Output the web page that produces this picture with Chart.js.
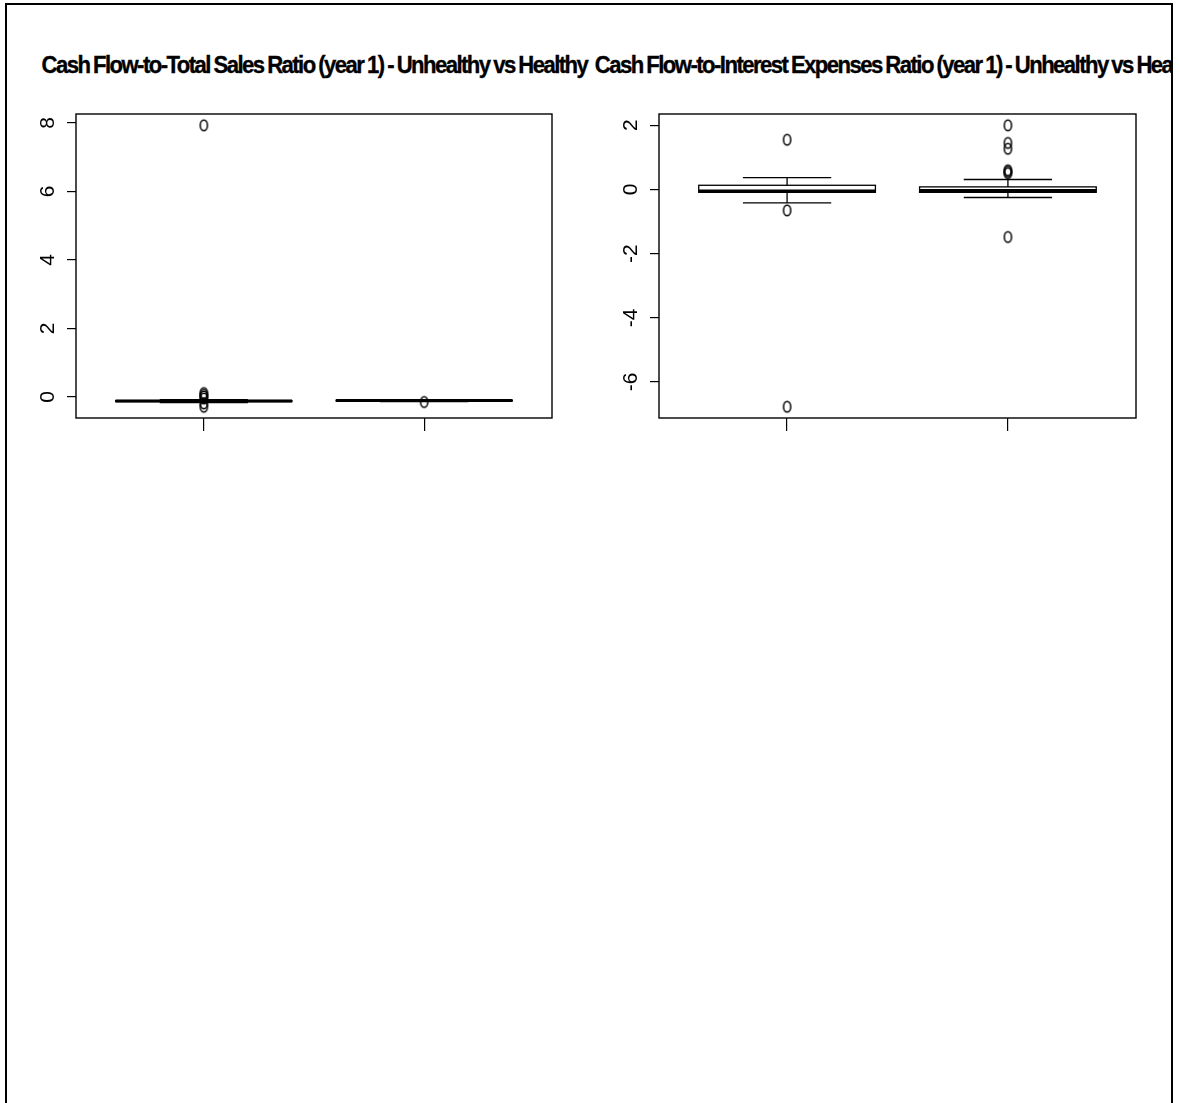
<!DOCTYPE html>
<html>
<head>
<meta charset="utf-8">
<title>Cash flow ratios, year 1</title>
<script src="https://cdn.jsdelivr.net/npm/chart.js@4/dist/chart.umd.min.js"></script>
<style>
  html, body { margin: 0; padding: 0; background: #fff; width: 1180px; height: 1103px; overflow: hidden; }
  #page { position: absolute; left: 0; top: 0; width: 1173px; height: 1103px; overflow: hidden; }
  #frame { position: absolute; left: 5px; top: 3px; width: 1168px; height: 1120px; box-sizing: border-box;
           border: 2px solid #000; border-bottom: none; z-index: 5; }
  .title { position: absolute; top: 54px; font: bold 23px "Liberation Sans", Arial, sans-serif; line-height: 22px;
           white-space: nowrap; letter-spacing: -1.6px; word-spacing: -1px; color: #000;
           -webkit-text-stroke: 0.35px #000; transform-origin: 50% 50%; }
  canvas { position: absolute; top: 90px; }
  #c1 { left: 0px; }
  #c2 { left: 585px; }
</style>
</head>
<body>
<div id="page">
  <div id="frame"></div>
  <div class="title" id="t1"></div>
  <div class="title" id="t2"></div>
  <canvas id="c1" width="590" height="350"></canvas>
  <canvas id="c2" width="590" height="350"></canvas>
</div>
<script>
// Groups, left to right on each panel
const groups = ['Unhealthy', 'Healthy'];

// Cash Flow-to-Total Sales Ratio, year 1: five-number summaries per group
const salesWhiskerLow  = [-0.17, -0.14];
const salesQ1          = [-0.14, -0.12];
const salesMedian      = [-0.125, -0.11];
const salesQ3          = [-0.11, -0.10];
const salesWhiskerHigh = [-0.08, -0.09];
const salesOutliersUnhealthy = [7.93, 0.11, 0.06, 0.01, -0.05, -0.19, -0.29];
const salesOutliersHealthy   = [-0.15];
const salesTicks = [0, 2, 4, 6, 8];

// Cash Flow-to-Interest Expenses Ratio, year 1
const interestWhiskerLow  = [-0.42, -0.25];
const interestQ1          = [-0.09, -0.09];
const interestMedian      = [-0.05, -0.03];
const interestQ3          = [0.13, 0.08];
const interestWhiskerHigh = [0.37, 0.31];
const interestOutliersUnhealthy = [1.55, -0.65, -6.77];
const interestOutliersHealthy   = [2.0, 1.45, 1.27, 0.6, 0.55, 0.51, -1.48];
const interestTicks = [-6, -4, -2, 0, 2];

const panelTitles = [
  'Cash Flow-to-Total Sales Ratio (year 1) - Unhealthy vs Healthy',
  'Cash Flow-to-Interest Expenses Ratio (year 1) - Unhealthy vs Healthy'
];

Chart.defaults.font.family = '"Liberation Sans", Arial, sans-serif';
Chart.defaults.font.size = 21;
Chart.defaults.color = '#000';

// Open elliptical marker for outlying points
function ringMarker() {
  const c = document.createElement('canvas');
  c.width = 11; c.height = 15;
  const g = c.getContext('2d');
  g.strokeStyle = '#000';
  g.lineWidth = 1.5;
  g.beginPath();
  g.ellipse(5.5, 7.5, 3.6, 5.3, 0, 0, Math.PI * 2);
  g.stroke();
  return c;
}
const marker = ringMarker();

// Draws boxes, whiskers, staples and medians from the summaries, plus the plot frame
const boxPlugin = {
  id: 'boxes',
  beforeDatasetsDraw(chart, args, opts) {
    const { ctx, scales: { x, y } } = chart;
    const line = (x1, y1, x2, y2) => { ctx.beginPath(); ctx.moveTo(x1, y1); ctx.lineTo(x2, y2); ctx.stroke(); };
    ctx.save();
    ctx.strokeStyle = '#000';
    ctx.lineCap = 'butt';
    opts.median.forEach((m, i) => {
      const pos = i + 1;
      const xl = x.getPixelForValue(pos - 0.4), xr = x.getPixelForValue(pos + 0.4);
      const sl = x.getPixelForValue(pos - 0.2), sr = x.getPixelForValue(pos + 0.2);
      const xc = x.getPixelForValue(pos);
      const yLo = y.getPixelForValue(opts.low[i]);
      const yQ1 = y.getPixelForValue(opts.q1[i]);
      const yMd = y.getPixelForValue(m);
      const yQ3 = y.getPixelForValue(opts.q3[i]);
      const yHi = y.getPixelForValue(opts.high[i]);
      ctx.lineWidth = 1.3;
      line(xc, yLo, xc, yQ1);
      line(xc, yHi, xc, yQ3);
      line(sl, yLo, sr, yLo);
      line(sl, yHi, sr, yHi);
      ctx.fillStyle = '#fff';
      ctx.fillRect(xl, yQ3, xr - xl, yQ1 - yQ3);
      ctx.strokeRect(xl, yQ3, xr - xl, yQ1 - yQ3);
      ctx.lineWidth = 3;
      line(xl, yMd, xr, yMd);
    });
    ctx.restore();
  },
  afterDraw(chart) {
    const { ctx, chartArea: a } = chart;
    ctx.save();
    ctx.strokeStyle = '#000';
    ctx.lineWidth = 1.4;
    ctx.strokeRect(a.left, a.top, a.right - a.left, a.bottom - a.top);
    ctx.restore();
  }
};

function boxChart(canvasId, s, outUnhealthy, outHealthy, ticks, pad, labelPad) {
  const all = [...s.low, ...s.high, ...outUnhealthy, ...outHealthy];
  const lo = Math.min(...all), hi = Math.max(...all);
  const ext = (hi - lo) * 0.04;
  const points = [
    ...outUnhealthy.map(v => ({ x: 1, y: v })),
    ...outHealthy.map(v => ({ x: 2, y: v }))
  ];
  return new Chart(document.getElementById(canvasId), {
    type: 'scatter',
    data: {
      labels: groups,
      datasets: [{
        data: points,
        pointStyle: marker,
        pointRadius: 5,
        showLine: false
      }]
    },
    plugins: [boxPlugin],
    options: {
      responsive: false,
      animation: false,
      events: [],
      layout: { padding: pad },
      plugins: {
        legend: { display: false },
        tooltip: { enabled: false },
        boxes: s
      },
      scales: {
        x: {
          type: 'linear',
          min: 0.42, max: 2.58,
          afterBuildTicks: sc => { sc.ticks = groups.map((g, i) => ({ value: i + 1 })); },
          afterFit: sc => { sc.height = 20; sc.paddingLeft = 0; sc.paddingRight = 0; },
          ticks: { display: false },
          grid: { drawOnChartArea: false, drawTicks: true, tickLength: 13, color: '#000', lineWidth: 1.2 },
          border: { display: false }
        },
        y: {
          type: 'linear',
          min: lo - ext, max: hi + ext,
          afterBuildTicks: sc => { sc.ticks = ticks.map(v => ({ value: v })); },
          afterFit: sc => { sc.width = 50; sc.paddingTop = 0; sc.paddingBottom = 0; },
          ticks: { minRotation: 90, maxRotation: 90, crossAlign: 'center', padding: labelPad,
                   color: '#000', font: { size: 21 }, autoSkip: false },
          grid: { drawOnChartArea: false, drawTicks: true, tickLength: 9, color: '#000', lineWidth: 1.2 },
          border: { display: false }
        }
      }
    }
  });
}

boxChart('c1',
  { low: salesWhiskerLow, q1: salesQ1, median: salesMedian, q3: salesQ3, high: salesWhiskerHigh },
  salesOutliersUnhealthy, salesOutliersHealthy, salesTicks,
  { left: 26, right: 38, top: 24, bottom: 2 }, 13);

boxChart('c2',
  { low: interestWhiskerLow, q1: interestQ1, median: interestMedian, q3: interestQ3, high: interestWhiskerHigh },
  interestOutliersUnhealthy, interestOutliersHealthy, interestTicks,
  { left: 24, right: 39, top: 24, bottom: 2 }, 9);

// Panel titles, centred over each plot region and condensed
const t1 = document.getElementById('t1'), t2 = document.getElementById('t2');
t1.textContent = panelTitles[0];
t2.textContent = panelTitles[1];
const squeeze = 546 / t1.offsetWidth;
[[t1, 314], [t2, 900]].forEach(([el, cx]) => {
  const w = el.offsetWidth;
  el.style.left = (cx - w / 2) + 'px';
  el.style.transform = 'scaleX(' + squeeze + ')';
});
</script>
</body>
</html>
